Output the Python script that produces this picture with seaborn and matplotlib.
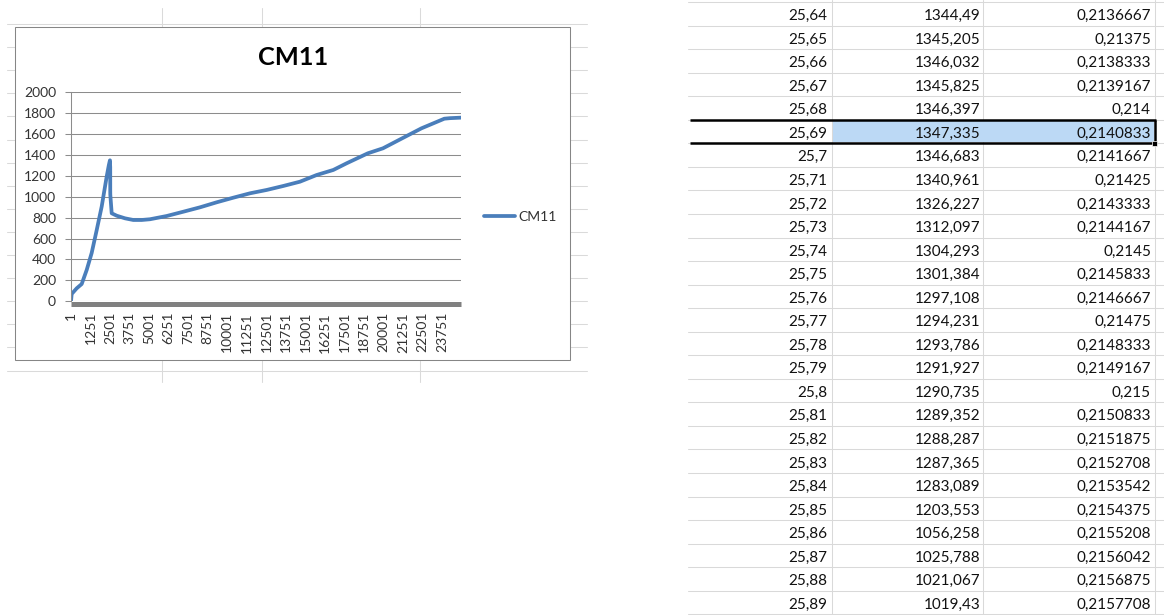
import matplotlib
matplotlib.use("Agg")
import matplotlib.pyplot as plt
from matplotlib.patches import Rectangle
from matplotlib import transforms
import seaborn as sns

# CM11 load record: sample number and load reading
sample_no = [1, 45, 365, 685, 1004, 1324, 1644, 1964, 2284, 2420, 2490, 2495,
             2505, 2510, 2511, 2512, 2515, 2604, 2924, 3454, 3985, 4523, 5054,
             6122, 7184, 8252, 9321, 10382, 11451, 12519, 13581, 14649, 15718,
             16780, 17636, 18986, 19959, 21194, 22422, 23886, 24245, 24950]
load = [0, 70, 124, 165, 299, 462, 680, 905, 1192, 1300, 1346.4, 1347.3,
        1297, 1283, 1203.6, 1056, 1019, 841, 818, 793, 777, 777, 784,
        815, 856, 898, 946, 990, 1032, 1064, 1102, 1143, 1207,
        1255, 1319, 1414, 1462, 1558, 1653, 1745, 1750, 1755]
n_samples = 24950

x_ticks = list(range(1, n_samples, 1250))
y_ticks = list(range(0, 2001, 200))

# worksheet rows listed next to the chart
time_s = [25.64, 25.65, 25.66, 25.67, 25.68, 25.69, 25.7, 25.71, 25.72, 25.73,
          25.74, 25.75, 25.76, 25.77, 25.78, 25.79, 25.8, 25.81, 25.82, 25.83,
          25.84, 25.85, 25.86, 25.87, 25.88, 25.89]
load_col = [1344.49, 1345.205, 1346.032, 1345.825, 1346.397, 1347.335,
            1346.683, 1340.961, 1326.227, 1312.097, 1304.293, 1301.384,
            1297.108, 1294.231, 1293.786, 1291.927, 1290.735, 1289.352,
            1288.287, 1287.365, 1283.089, 1203.553, 1056.258, 1025.788,
            1021.067, 1019.43]
strain_col = [0.2136667, 0.21375, 0.2138333, 0.2139167, 0.214, 0.2140833,
              0.2141667, 0.21425, 0.2143333, 0.2144167, 0.2145, 0.2145833,
              0.2146667, 0.21475, 0.2148333, 0.2149167, 0.215, 0.2150833,
              0.2151875, 0.2152708, 0.2153542, 0.2154375, 0.2155208,
              0.2156042, 0.2156875, 0.2157708]
selected_row = 5

sns.set_style("white")
plt.rcParams["font.family"] = ["Lato", "DejaVu Sans"]

W, H = 1164, 615
fig = plt.figure(figsize=(W / 100, H / 100), dpi=100)

# pixel-space layer for the worksheet
bg = fig.add_axes([0, 0, 1, 1])
bg.set_xlim(0, W)
bg.set_ylim(H, 0)
bg.axis("off")

sheet_grid = "#DADADA"
for k in range(16):
    y = 24 + 23.1 * k
    bg.plot([7, 587], [y, y], color=sheet_grid, lw=0.75, zorder=1)
for x in [162, 262, 420]:
    bg.plot([x, x], [8, 382], color=sheet_grid, lw=0.75, zorder=1)

# chart area
bg.add_patch(Rectangle((15.3, 26.7), 570 - 15.3, 360 - 26.7, facecolor="white",
                       edgecolor="#868686", lw=0.75, zorder=3))
bg.text(292.7, 65, "CM11", ha="center", va="baseline", fontsize=18.3,
        fontweight="bold", color="black", zorder=4)

# right-hand table
tbl_grid = "#D9D9D9"
row_h = 23.55
for k in range(27):
    y = 2 + row_h * k
    bg.plot([688, W], [y, y], color=tbl_grid, lw=0.75, zorder=1)
for x in [831.5, 983, 1154.5]:
    bg.plot([x, x], [0, H], color=tbl_grid, lw=0.75, zorder=1)

sel_top = 2 + row_h * selected_row
sel_bot = sel_top + row_h
bg.add_patch(Rectangle((832.5, sel_top + 1), 1153.5 - 832.5, row_h - 2,
                       facecolor="#BCD9F5", edgecolor="none", zorder=2))
bg.plot([690, 1156], [sel_top, sel_top], color="black", lw=1.8,
        solid_capstyle="butt", zorder=5)
bg.plot([690, 1156], [sel_bot, sel_bot], color="black", lw=1.8,
        solid_capstyle="butt", zorder=5)
bg.plot([1155, 1155], [sel_top, sel_bot], color="black", lw=1.8,
        solid_capstyle="butt", zorder=5)
bg.add_patch(Rectangle((1151.5, sel_bot - 2.5), 5, 5, facecolor="black",
                       edgecolor="white", lw=0.5, zorder=6))


def cell_text(v):
    return ("%.10g" % v).replace(".", ",")


for k, (t, f, s) in enumerate(zip(time_s, load_col, strain_col)):
    base = 20 + row_h * k
    for xr, v in [(827.5, t), (980.5, f), (1151, s)]:
        bg.text(xr, base, cell_text(v), ha="right", va="baseline",
                fontsize=11, color="#111111", zorder=7)

# line chart
left, right, top, bottom = 71, 461, 92, 301.3
ax = fig.add_axes([left / W, 1 - bottom / H, (right - left) / W, (bottom - top) / H])
ax.patch.set_alpha(0)
line_color = "#4A7EBB"
sns.lineplot(x=sample_no, y=load, ax=ax, color=line_color, lw=2.7,
             label="CM11", zorder=2)

axis_trans = (transforms.blended_transform_factory(ax.transAxes, ax.transData)
              + transforms.ScaledTranslation(0, -2.5 / 100, fig.dpi_scale_trans))
ax.plot([0, 1], [0, 0], transform=axis_trans, color="#808080", lw=3.6,
        solid_capstyle="butt", clip_on=False, zorder=3)

ax.set_xlim(1, n_samples)
ax.set_ylim(0, 2000)
ax.set_xticks(x_ticks)
ax.set_xticklabels([str(t) for t in x_ticks], rotation=90, fontsize=10,
                   color="#333333")
ax.tick_params(axis="x", length=0, pad=7.7)
ax.set_yticks(y_ticks)
ax.set_yticklabels([str(t) for t in y_ticks])
ax.tick_params(axis="y", length=4.3, width=0.75, color="#8C8C8C", pad=6.5,
               labelsize=10, labelcolor="#333333", left=True)
ax.grid(axis="y", color="#8C8C8C", lw=0.75)
ax.grid(axis="x", visible=False)
ax.set_axisbelow(True)
for side in ["top", "right", "bottom"]:
    ax.spines[side].set_visible(False)
ax.spines["left"].set_color("#8C8C8C")
ax.spines["left"].set_linewidth(0.75)
ax.set_xlabel("")
ax.set_ylabel("")

leg = ax.legend(loc="center left", bbox_to_anchor=(484 / W, 1 - 216.7 / H),
                bbox_transform=fig.transFigure, frameon=False, fontsize=10,
                handlelength=2.2, handletextpad=0.25, borderpad=0,
                borderaxespad=0)
for txt in leg.get_texts():
    txt.set_color("#333333")

fig.savefig("out.png", dpi=100)
